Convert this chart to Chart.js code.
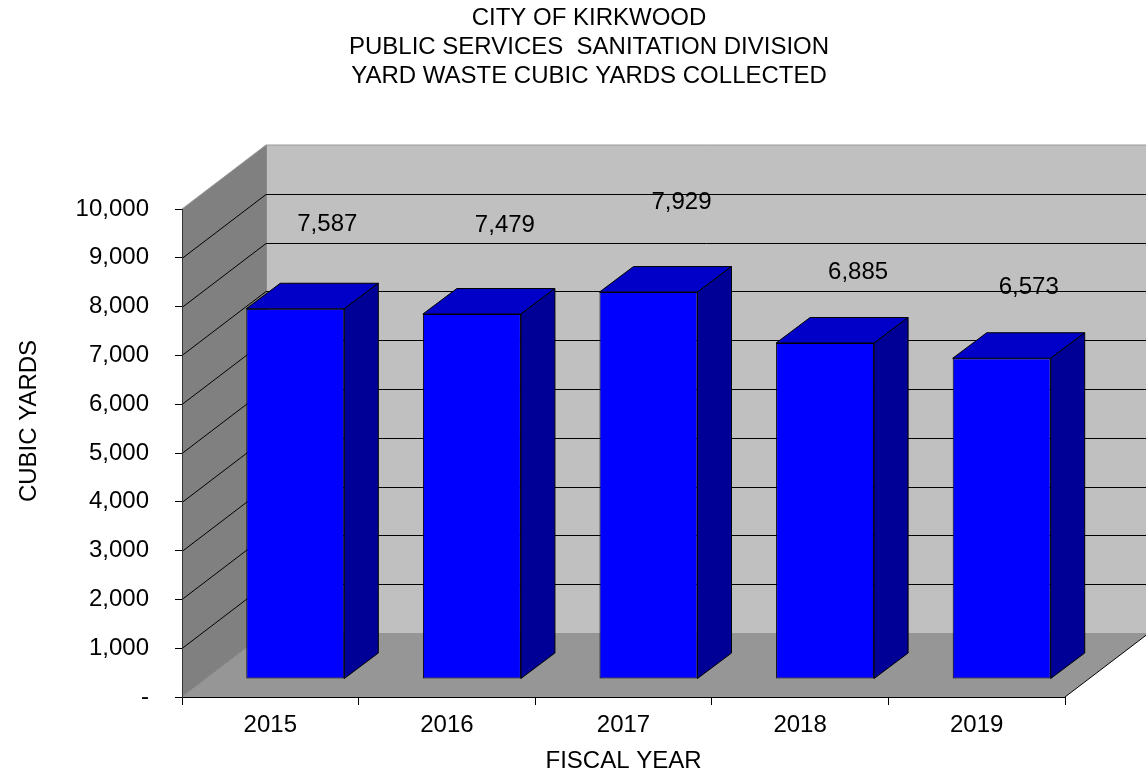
<!DOCTYPE html>
<html>
<head>
<meta charset="utf-8">
<script src="https://cdn.jsdelivr.net/npm/chart.js@4.4.1/dist/chart.umd.min.js"></script>
<style>
  html, body { margin: 0; padding: 0; background: #ffffff; }
  canvas { display: block; }
</style>
</head>
<body>
<canvas id="chart" width="1146" height="778"></canvas>
<script>
// ---- data ----
const fiscalYears = ['2015', '2016', '2017', '2018', '2019'];
const cubicYards = [7587, 7479, 7929, 6885, 6573];
const titleLines = ['CITY OF KIRKWOOD', 'PUBLIC SERVICES  SANITATION DIVISION', 'YARD WASTE CUBIC YARDS COLLECTED'];
const yAxisTitle = 'CUBIC YARDS';
const xAxisTitle = 'FISCAL YEAR';

// ---- look ----
const FONT = "'Liberation Sans', Arial, Helvetica, sans-serif";
const TEXT_SIZE = 24;
const TITLE_CENTRE_X = 589;
const TITLE_FIRST_Y = 18;
const TITLE_LINE_GAP = 29;

// depth of the 3-D box and where the columns sit inside it
const depth = {
  wall: { dx: 84, dy: -64 },      // front plane -> back wall
  barFront: { dx: 25, dy: -18 },  // front plane -> column front face
  barBody: { dx: 34, dy: -25.5 }  // column front face -> column back face
};
const colours = {
  backWall: '#c0c0c0',
  sideWall: '#808080',
  floor: '#969696',
  barFront: '#0000ff',
  barTop: '#0000c8',
  barSide: '#000096'
};
// value-label placement relative to each column (x from category centre, y from value on the axis)
const labelNudge = [[57, -102], [58, -107], [58, -108], [58, -89], [52, -89]];

function poly(ctx, pts, fill, stroke) {
  ctx.beginPath();
  ctx.moveTo(pts[0][0], pts[0][1]);
  for (let i = 1; i < pts.length; i++) ctx.lineTo(pts[i][0], pts[i][1]);
  ctx.closePath();
  if (fill) { ctx.fillStyle = fill; ctx.fill(); }
  if (stroke) { ctx.strokeStyle = stroke; ctx.lineWidth = 1; ctx.stroke(); }
}

const box3d = {
  id: 'box3d',
  beforeDraw(chart) {
    const { ctx, chartArea: a, scales: { y } } = chart;
    const W = depth.wall;
    const L = a.left, R = a.right, T = a.top, B = a.bottom;
    ctx.save();
    // back wall
    poly(ctx, [[L + W.dx, T + W.dy], [R + W.dx, T + W.dy], [R + W.dx, B + W.dy], [L + W.dx, B + W.dy]], colours.backWall);
    // left wall
    poly(ctx, [[L, T], [L + W.dx, T + W.dy], [L + W.dx, B + W.dy], [L, B]], colours.sideWall);
    // floor
    poly(ctx, [[L, B], [L + W.dx, B + W.dy], [R + W.dx, B + W.dy], [R, B]], colours.floor);

    // wall edges
    ctx.lineWidth = 1;
    ctx.strokeStyle = '#9a9a9a';
    ctx.beginPath();
    ctx.moveTo(L, T); ctx.lineTo(L + W.dx, T + W.dy); ctx.lineTo(R + W.dx, T + W.dy);
    ctx.stroke();
    ctx.strokeStyle = '#8a8a8a';
    ctx.beginPath();
    ctx.moveTo(L, B); ctx.lineTo(L + W.dx, B + W.dy);
    ctx.moveTo(L + W.dx + 0.5, T + W.dy); ctx.lineTo(L + W.dx + 0.5, B + W.dy);
    ctx.stroke();
    ctx.strokeStyle = '#000000';
    ctx.beginPath();
    ctx.moveTo(R, B); ctx.lineTo(R + W.dx, B + W.dy);
    ctx.stroke();

    // gridlines running across the left wall and the back wall
    ctx.strokeStyle = '#000000';
    ctx.lineWidth = 1;
    const ticks = y.ticks.map(t => t.value).filter(v => v > y.min && v < y.max);
    ctx.beginPath();
    ticks.forEach(v => {
      const py = Math.round(y.getPixelForValue(v));
      ctx.moveTo(L, py + 0.5);
      ctx.lineTo(L + W.dx, py + W.dy + 0.5);
      ctx.lineTo(R + W.dx + 2, py + W.dy + 0.5);
    });
    ctx.stroke();
    ctx.restore();
  },
  beforeDatasetsDraw(chart) {
    chart.ctx.save();
    chart.ctx.translate(depth.barFront.dx, depth.barFront.dy);
  },
  afterDatasetsDraw(chart) {
    const { ctx, scales: { y } } = chart;
    ctx.restore();
    const f = depth.barFront, d = depth.barBody;
    const meta = chart.getDatasetMeta(0);
    ctx.save();
    ctx.lineJoin = 'miter';
    meta.data.forEach((el) => {
      const p = el.getProps(['x', 'y', 'base', 'width'], true);
      const l = p.x - p.width / 2 + f.dx, r = p.x + p.width / 2 + f.dx;
      const t = p.y + f.dy, b = p.base + f.dy;
      // top face
      poly(ctx, [[l, t], [l + d.dx, t + d.dy], [r + d.dx, t + d.dy], [r, t]], colours.barTop, '#000000');
      // right face
      poly(ctx, [[r, t], [r + d.dx, t + d.dy], [r + d.dx, b + d.dy], [r, b]], colours.barSide, '#000000');
    });

    ctx.fillStyle = '#000000';
    ctx.font = TEXT_SIZE + 'px ' + FONT;
    ctx.textAlign = 'center';
    ctx.textBaseline = 'middle';

    // value labels
    meta.data.forEach((el, i) => {
      const v = cubicYards[i];
      const n = labelNudge[i];
      ctx.fillText(v.toLocaleString('en-US'), el.x + n[0], y.getPixelForValue(v) + n[1]);
    });

    // chart title
    titleLines.forEach((line, i) => {
      ctx.fillText(line, TITLE_CENTRE_X, TITLE_FIRST_Y + i * TITLE_LINE_GAP);
    });

    // vertical axis title, centred on the full height of the box
    const a = chart.chartArea;
    const cy = (a.bottom + a.top + depth.wall.dy) / 2;
    ctx.translate(29, cy);
    ctx.rotate(-Math.PI / 2);
    ctx.fillText(yAxisTitle, 0, 0);
    ctx.restore();
  }
};

new Chart(document.getElementById('chart'), {
  type: 'bar',
  data: {
    labels: fiscalYears,
    datasets: [{
      data: cubicYards,
      backgroundColor: colours.barFront,
      borderColor: '#000000',
      borderWidth: 1,
      borderSkipped: false,
      barPercentage: 0.555,
      categoryPercentage: 1.0,
      clip: false
    }]
  },
  options: {
    responsive: false,
    animation: false,
    devicePixelRatio: 1,
    layout: { padding: { left: 0, right: 81, top: 209, bottom: 0 } },
    plugins: {
      legend: { display: false },
      tooltip: { enabled: false },
      title: { display: false }
    },
    scales: {
      x: {
        offset: true,
        grid: { offset: true, drawOnChartArea: false, drawTicks: true, tickLength: 8, tickColor: '#000000' },
        border: { display: true, color: '#000000', width: 1 },
        ticks: { color: '#000000', font: { family: FONT, size: TEXT_SIZE }, padding: 6, maxRotation: 0 },
        title: {
          display: true,
          text: xAxisTitle,
          color: '#000000',
          font: { family: FONT, size: TEXT_SIZE },
          padding: { top: 0, bottom: 2 }
        },
        afterFit(scale) { scale.height = 81; }
      },
      y: {
        min: 0,
        max: 10000,
        grid: { drawOnChartArea: false, drawTicks: true, tickLength: 7, tickColor: '#000000' },
        border: { display: true, color: '#333333', width: 1 },
        ticks: {
          stepSize: 1000,
          color: '#000000',
          font: { family: FONT, size: TEXT_SIZE },
          padding: 26,
          callback: (v) => v === 0 ? '-' : Number(v).toLocaleString('en-US')
        },
        afterFit(scale) { scale.width = 182; }
      }
    }
  },
  plugins: [box3d]
});
</script>
</body>
</html>
